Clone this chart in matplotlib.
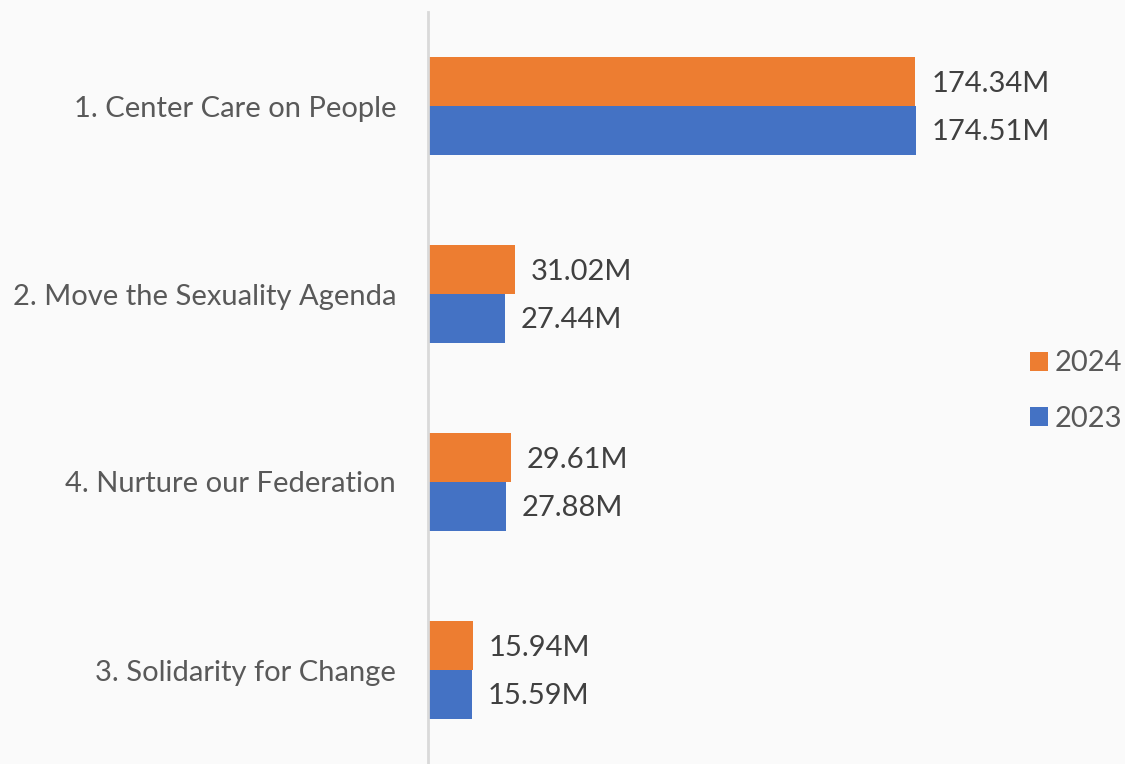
import matplotlib
matplotlib.use("Agg")
import matplotlib.pyplot as plt
import numpy as np

categories = ["1. Center Care on People", "2. Move the Sexuality Agenda",
              "4. Nurture our Federation", "3. Solidarity for Change"]
values_2024 = [174.34, 31.02, 29.61, 15.94]
values_2023 = [174.51, 27.44, 27.88, 15.59]
series_labels = ["2024", "2023"]

ORANGE = "#ED7D31"
BLUE = "#4472C4"
BG = "#FAFAFA"
FS = 21

plt.rcParams['font.family'] = ['Lato', 'DejaVu Sans']

W, H = 1125, 764
fig = plt.figure(figsize=(W / 100, H / 100), dpi=100, facecolor=BG)
left_px, right_px, top_px, bot_px = 428, 1000, 12, 764
ax = fig.add_axes([left_px / W, 1 - bot_px / H, (right_px - left_px) / W, (bot_px - top_px) / H])
ax.set_facecolor(BG)

y = np.arange(len(categories))
bh = 0.26
b24 = ax.barh(y - bh / 2, values_2024, height=bh, color=ORANGE, label=series_labels[0])
b23 = ax.barh(y + bh / 2, values_2023, height=bh, color=BLUE, label=series_labels[1])

px_per_unit = 2.796
ax.set_xlim(0, (right_px - left_px) / px_per_unit)
ax.set_ylim(len(categories) - 0.5, -0.5)

for bars, vals in ((b24, values_2024), (b23, values_2023)):
    for rect, v in zip(bars, vals):
        ax.annotate(f"{v:.2f}M", xy=(v, rect.get_y() + rect.get_height() / 2),
                    xytext=(16, -2), textcoords="offset pixels",
                    va="center", ha="left", fontsize=FS, color="#404040")

ax.set_yticks(y)
ax.set_yticklabels(categories, fontsize=FS, color="#595959")
ax.tick_params(axis="y", length=0, pad=23)
ax.set_xticks([])
for s in ("top", "right", "bottom"):
    ax.spines[s].set_visible(False)
ax.spines["left"].set_color("#D9D9D9")
ax.spines["left"].set_linewidth(2)

fig.legend(handles=[b24, b23], labels=series_labels, loc="center left",
           bbox_to_anchor=(1004 / W, 1 - 391 / H), frameon=False,
           fontsize=FS, labelcolor="#595959", handlelength=0.62, handleheight=0.62,
           handletextpad=0.22, labelspacing=1.0)

fig.savefig("out.png", dpi=100, facecolor=BG)
